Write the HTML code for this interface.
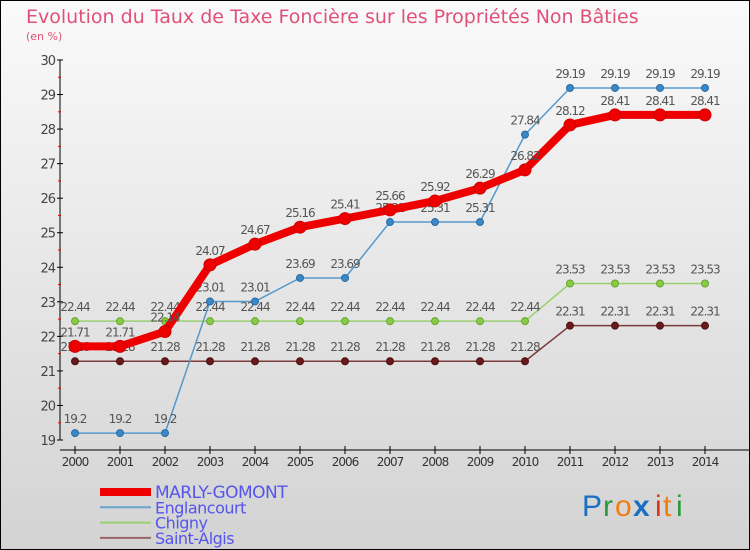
<!DOCTYPE html>
<html><head><meta charset="utf-8"><style>
body{margin:0;}
svg{display:block;font-family:"DejaVu Sans","Liberation Sans",sans-serif;}
</style></head><body>
<svg id="c" width="750" height="550" viewBox="0 0 750 550" xmlns="http://www.w3.org/2000/svg">
<defs><linearGradient id="bg" x1="0" y1="0" x2="0" y2="1"><stop offset="0" stop-color="#fafafa"/><stop offset="1" stop-color="#d3d3d3"/></linearGradient></defs>
<rect x="0.5" y="0.5" width="749" height="549" fill="url(#bg)" stroke="#000"/>
<text x="26" y="23" font-size="19" fill="#e0507a">Evolution du Taux de Taxe Foncière sur les Propriétés Non Bâties</text>
<text x="26" y="40" font-size="11" fill="#e0507a">(en %)</text>
<g id="axes"></g><g id="series"></g><g id="legend"></g>
<g font-size="30" font-family="'Liberation Sans',sans-serif">
<text x="582" y="516" fill="#1a6fc0">P</text><text x="603" y="516" fill="#2a9a3a">r</text><text x="615" y="516" fill="#f07d10">o</text><text x="633" y="516" fill="#1a6fc0" font-weight="bold">x</text><text x="655" y="516" fill="#e03020">i</text><text x="663" y="516" fill="#f07d10">t</text><text x="676" y="516" fill="#2a9a3a">i</text>
</g>
</svg>
<script>
const years=[2000,2001,2002,2003,2004,2005,2006,2007,2008,2009,2010,2011,2012,2013,2014];
const yTicks=[19,20,21,22,23,24,25,26,27,28,29,30];
const marly=[21.71,21.71,22.14,24.07,24.67,25.16,25.41,25.66,25.92,26.29,26.82,28.12,28.41,28.41,28.41];
const englancourt=[19.2,19.2,19.2,23.01,23.01,23.69,23.69,25.31,25.31,25.31,27.84,29.19,29.19,29.19,29.19];
const chigny=[22.44,22.44,22.44,22.44,22.44,22.44,22.44,22.44,22.44,22.44,22.44,23.53,23.53,23.53,23.53];
const saintAlgis=[21.28,21.28,21.28,21.28,21.28,21.28,21.28,21.28,21.28,21.28,21.28,22.31,22.31,22.31,22.31];
const NS='http://www.w3.org/2000/svg';
const X=i=>75+i*45;
const Y=v=>440-(v-19)*(380/11);
function mk(p,t,a){const e=document.createElementNS(NS,t);for(const k in a)e.setAttribute(k,a[k]);p.appendChild(e);return e;}
const ax=document.getElementById('axes');
const yl=mk(ax,'line',{x1:60,y1:Y(30),x2:60,y2:Y(19),stroke:'#000'});


yTicks.forEach(v=>{
  mk(ax,'line',{x1:57,y1:Y(v),x2:63,y2:Y(v),stroke:'#000'});
  if(v<30){mk(ax,'line',{x1:58,y1:Y(v+0.5),x2:61,y2:Y(v+0.5),stroke:'#e00'});}
  const t=mk(ax,'text',{x:55,y:Y(v)+5,'text-anchor':'end','font-size':13,fill:'#444','letter-spacing':'-1'});
  t.textContent=v;
  
  
});
const xl=mk(ax,'line',{x1:60,y1:450,x2:750,y2:450,stroke:'#000'});


years.forEach((y,i)=>{
  mk(ax,'line',{x1:X(i),y1:446,x2:X(i),y2:454,stroke:'#000'});
  const t=mk(ax,'text',{x:X(i),y:466,'text-anchor':'middle','font-size':12,fill:'#333','letter-spacing':'-1'});
  t.textContent=y;
  
  
});
const sg=document.getElementById('series');
function series(data,name,color,w,r,dot,dotStroke){
  const g=mk(sg,'g',{});
  
  
  mk(g,'polyline',{points:data.map((v,i)=>X(i)+','+Y(v)).join(' '),fill:'none',stroke:color,'stroke-width':w,'stroke-linejoin':'round'});
  data.forEach((v,i)=>{
    const c=mk(g,'circle',{cx:X(i),cy:Y(v),r:r,fill:dot,stroke:dotStroke,'stroke-width':1});
    
    
    const t=mk(g,'text',{x:X(i),y:Y(v)-10,'text-anchor':'middle','font-size':12,fill:'#555','letter-spacing':'-1'});
    t.textContent=v;
    
    
  });
}
series(saintAlgis,'saint-algis','#7a3a3a',1.5,3.5,'#6a1a1a','#4a1010');
series(chigny,'chigny','#99d070',1.5,3.5,'#88cc44','#6aa030');
series(englancourt,'englancourt','#5599cc',1.5,3.5,'#3a88c8','#2a6aa0');
series(marly,'marly-gomont','#ee0000',8,6,'#ee0000','#cc0000');
const lg=document.getElementById('legend');
const items=[['MARLY-GOMONT','#ee0000',8],['Englancourt','#66a4cc',2],['Chigny','#99d070',2],['Saint-Algis','#996666',2]];
items.forEach((it,k)=>{
  const y=492+k*15.3;
  const g=mk(lg,'g',{});
  
  
  mk(g,'line',{x1:100,y1:y,x2:151,y2:y,stroke:it[1],'stroke-width':it[2]});
  const t=mk(g,'text',{x:155,y:y+6,'font-size':k==0?17:16,fill:'#5555ee','letter-spacing':'-0.5'});
  t.textContent=it[0];
});
</script>
</body></html>
